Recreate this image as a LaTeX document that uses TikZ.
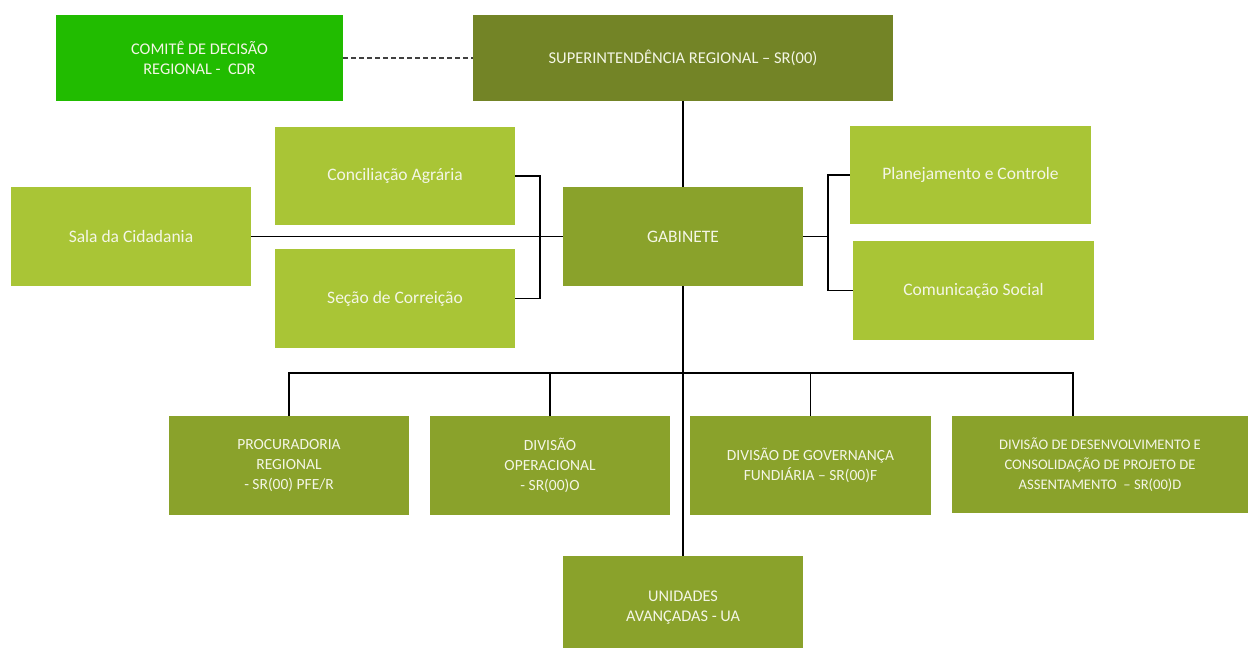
\documentclass[tikz,border=0pt]{standalone}
\usepackage{fontspec}
\setmainfont{Carlito}
\definecolor{cdrgreen}{HTML}{21BC00}
\definecolor{olive}{HTML}{738426}
\definecolor{midgreen}{HTML}{8AA22B}
\definecolor{lightgreen}{HTML}{A9C536}
\definecolor{boxtext}{HTML}{F4F6E6}
\tikzset{
  box/.style={draw=none, minimum width=240pt, minimum height=99pt, inner sep=0pt,
    text=boxtext, align=center, font=\fontsize{15.5}{20}\selectfont},
  topbox/.style={box, fill=olive, minimum height=86pt, font=\fontsize{16.5}{20}\selectfont},
  cdrbox/.style={box, fill=cdrgreen, minimum height=86pt, minimum width=287pt, font=\fontsize{16.3}{20}\selectfont},
  unitbox/.style={box, fill=midgreen},
  staffbox/.style={box, fill=lightgreen, font=\fontsize{17.5}{20}\selectfont},
  link/.style={draw=black, line width=1.5pt},
  dashlink/.style={draw=black!75, line width=1.2pt, dash pattern=on 5pt off 3pt}
}
\begin{document}
\begin{tikzpicture}[x=1pt,y=1pt]
\useasboundingbox[fill=white] (0,0) rectangle (1248,-648);

% top level
\node[cdrbox] (cdr) at (199.5,-58) {COMITÊ DE DECISÃO\\REGIONAL -\ \ CDR};
\node[topbox, minimum width=420pt] (sr) at (683,-58) {SUPERINTENDÊNCIA REGIONAL – SR(00)};

% cabinet and staff units
\node[unitbox, font=\fontsize{17.5}{20}\selectfont] (gab) at (683,-236.5) {GABINETE};
\node[staffbox, minimum height=98pt] (conc) at (395,-176) {Conciliação Agrária};
\node[staffbox] (sala) at (131,-236.5) {Sala da Cidadania};
\node[staffbox] (sec) at (395,-298.5) {Seção de Correição};
\node[staffbox, minimum width=241pt, minimum height=98pt] (plan) at (970.5,-175) {Planejamento e Controle};
\node[staffbox, minimum width=241pt] (com) at (973.5,-290.5) {Comunicação Social};

% divisions
\node[unitbox] (proc) at (289,-465.5) {PROCURADORIA\\REGIONAL\\- SR(00) PFE/R};
\node[unitbox] (divop) at (550,-465.5) {DIVISÃO\\OPERACIONAL\\- SR(00)O};
\node[unitbox, minimum width=241pt] (gov) at (810.5,-465.5) {DIVISÃO DE GOVERNANÇA\\FUNDIÁRIA – SR(00)F};
\node[unitbox, minimum width=296pt, minimum height=97pt, font=\fontsize{14.6}{20}\selectfont] (desenv) at (1100,-464.5) {DIVISÃO DE DESENVOLVIMENTO E\\CONSOLIDAÇÃO DE PROJETO DE\\ASSENTAMENTO\ \ – SR(00)D};
% this box runs past the lower page edge
\node[unitbox, minimum height=104pt, font=\fontsize{16.3}{20}\selectfont] (ua) at (683,-608) {UNIDADES\\AVANÇADAS - UA};

% connectors
\coordinate (bus) at (683,-373);
\coordinate (brR) at (828,-236.5);
\coordinate (desenvdrop) at (1073,-415.5);

\draw[dashlink] (cdr.east) -- (sr.west);
\draw[link] (sr.south) -- (gab.north);
\draw[link] (gab.south) -- (ua.north);
\draw[link] (sala.east) -- (gab.west);
\draw[link] (conc.east) -- ++(25,0) |- (sec.east);
\draw[link] (gab.east) -- (brR);
\draw[link] (plan.west) -| (brR) |- (com.west);
\draw[link] (proc.north) |- (bus);
\draw[link] (divop.north) |- (bus);
\draw[link] (gov.north) |- (bus);
\draw[link] (desenvdrop) |- (bus);
\end{tikzpicture}
\end{document}
